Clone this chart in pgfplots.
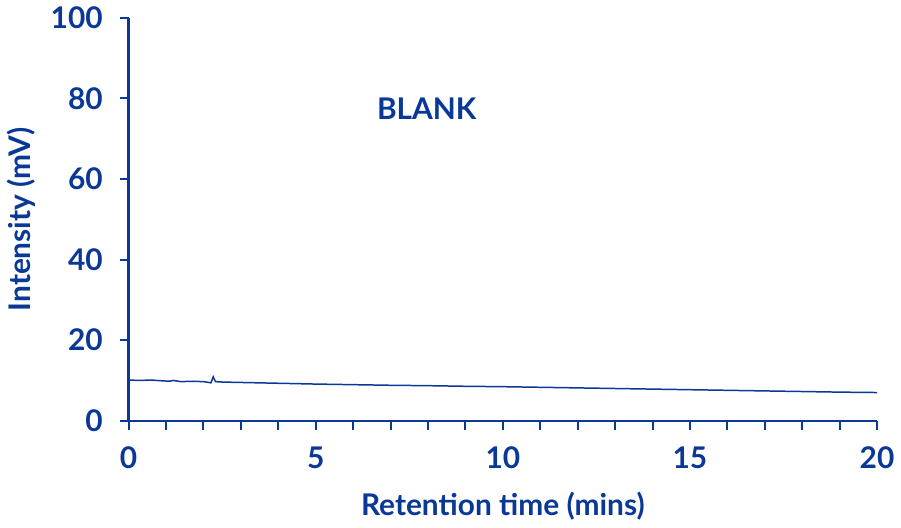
\documentclass[border=0pt]{standalone}
\usepackage{fontspec}
\setmainfont{Lato}
\usepackage{pgfplots}
\pgfplotsset{compat=1.18}
\definecolor{navy}{RGB}{10,56,150}

\pgfplotstableread{
t     mv
0     10.1
0.3   10.0
0.6   10.1
0.9   9.9
1.1   9.8
1.2   10.0
1.4   9.7
1.7   9.8
2.0   9.7
2.15  9.5
2.2   9.4
2.26  10.9
2.32  9.7
2.5   9.6
3     9.5
3.5   9.4
4     9.3
4.5   9.2
5     9.1
6     8.95
7     8.8
8     8.7
9     8.55
10    8.45
11    8.3
12    8.15
13    8.0
14    7.85
15    7.7
16    7.55
17    7.4
18    7.25
19    7.1
20    7.0
}\blank

\begin{document}
\begin{tikzpicture}
\begin{axis}[
    scale only axis,
    width=376pt, height=202.5pt,
    xmin=0, xmax=20, ymin=0, ymax=100,
    axis x line*=bottom, axis y line*=left,
    axis line style={navy, line width=1.25pt, -},
    xtick={0,5,10,15,20}, ytick={0,20,...,100},
    minor x tick num=4,
    tick align=outside,
    major tick length=4.5pt, minor tick length=4.5pt,
    tick style={navy, line width=1pt},
    tick label style={font=\fontsize{15}{18}\selectfont\bfseries, text=navy},
    xticklabel style={yshift=-5pt},
    yticklabel style={xshift=-5pt},
    /pgf/number format/assume math mode=true,
    xlabel={Retention time (mins)},
    ylabel={Intensity (mV)},
    label style={font=\fontsize{15}{18}\selectfont\bfseries, text=navy},
    xlabel style={yshift=-5pt},
    ylabel style={yshift=1pt},
    clip=false,
]
\addplot[navy, line width=0.75pt] table[x=t, y=mv] {\blank};
\node[anchor=west, text=navy, font=\fontsize{15}{18}\selectfont\bfseries] at (axis cs:6.45,77.5) {BLANK};
\end{axis}
\end{tikzpicture}
\end{document}
